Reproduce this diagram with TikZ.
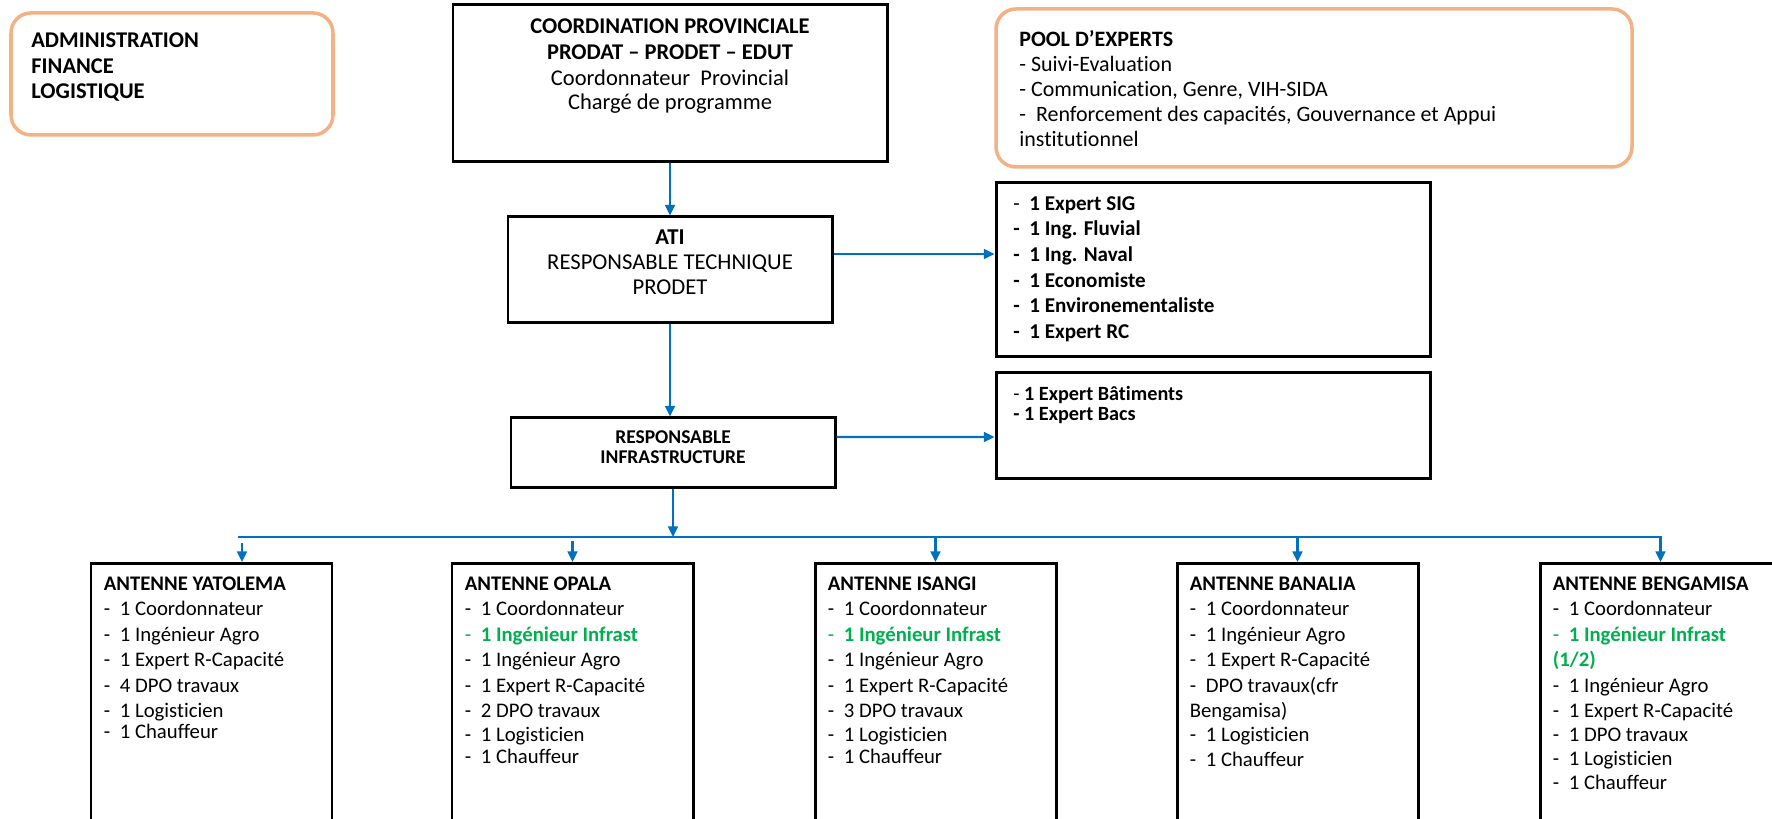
\documentclass[tikz,border=0pt]{standalone}
\usepackage{fontspec}
\setmainfont{Carlito}[Ligatures=NoCommon]
\usepackage{xcolor}
\usetikzlibrary{arrows.meta, positioning, calc}

\definecolor{boxorange}{HTML}{F4B183}
\definecolor{linkblue}{HTML}{0070C0}
\definecolor{infragreen}{HTML}{00B050}

\newcommand{\li}{\makebox[0.32cm][l]{-}}

\begin{document}
\begin{tikzpicture}[
    font=\fontsize{11.8}{14.5}\selectfont,
    unit/.style={rectangle, draw=black, line width=1.7pt},
    softbox/.style={rectangle, rounded corners=0.4cm, draw=boxorange, line width=2pt},
    antenna/.style={unit, minimum width=4.82cm, minimum height=5.5cm, anchor=north},
    txt/.style={anchor=north west, align=left, inner sep=0pt},
    ctxt/.style={anchor=north, align=center, inner sep=0pt},
    link/.style={-{Triangle[length=6pt, width=5.5pt]}, draw=linkblue, line width=1.3pt}
]

\useasboundingbox (0,0) rectangle (35.44,16.38);
\clip (0,0) rectangle (35.44,16.38);

% Top row: administration, coordination, pool
\node[softbox, minimum width=6.44cm, minimum height=2.44cm] (admin) at (3.44,14.90) {};
\node[txt, font=\fontsize{12.8}{14.5}\selectfont\bfseries] (admintxt) at (0.62,15.73) {ADMINISTRATION\\FINANCE\\LOGISTIQUE};

\node[unit, minimum width=8.68cm, minimum height=3.14cm] (coord) at (13.40,14.71) {};
\node[ctxt, font=\fontsize{12.8}{14.9}\selectfont] (coordtxt) at (13.40,16.02) {
    \textbf{COORDINATION PROVINCIALE}\\
    \textbf{PRODAT – PRODET – EDUT}\\
    Coordonnateur\ \ Provincial\\[-1pt]
    Chargé de programme
};

\node[softbox, minimum width=12.72cm, minimum height=3.16cm] (pool) at (26.28,14.62) {};
\node[txt, font=\fontsize{12.5}{14.3}\selectfont] (pooltxt) at (20.38,15.78) {
    \textbf{POOL D’EXPERTS}\\
    - Suivi-Evaluation\\
    - Communication, Genre, VIH-SIDA\\
    -\ \ Renforcement des capacités, Gouvernance et Appui\\
    institutionnel
};

% Middle: ATI and infrastructure
\node[unit, minimum width=6.48cm, minimum height=2.12cm] (ati) at (13.40,10.98) {};
\node[ctxt, font=\fontsize{12.9}{14.2}\selectfont] (atitxt) at (13.40,11.79) {\textbf{ATI}\\RESPONSABLE TECHNIQUE\\PRODET};

\node[unit, minimum width=8.68cm, minimum height=3.48cm] (experts) at (24.26,10.98) {};
\node[txt, font=\fontsize{12.0}{14.6}\selectfont\bfseries] (expertstxt) at (20.26,12.46) {
    {\mdseries\li}1 Expert SIG\\
    \li 1 Ing. Fluvial\\
    \li 1 Ing. Naval\\
    \li 1 Economiste\\
    \li 1 Environementaliste\\
    \li 1 Expert RC
};

\node[unit, minimum width=6.48cm, minimum height=1.40cm] (resp) at (13.46,7.32) {};
\node[ctxt, font=\fontsize{11.1}{11.4}\selectfont\bfseries] (resptxt) at (13.46,7.77) {RESPONSABLE\\INFRASTRUCTURE};

\node[unit, minimum width=8.68cm, minimum height=2.12cm] (batim) at (24.26,7.86) {};
\node[txt, font=\fontsize{11.5}{11.9}\selectfont\bfseries] (batimtxt) at (20.26,8.67) {{\mdseries -} 1 Expert Bâtiments\\- 1 Expert Bacs};

% Bottom row: antennes
\node[antenna] (yat) at (4.23,5.14) {};
\node[antenna] (opa) at (11.45,5.14) {};
\node[antenna] (isa) at (18.71,5.14) {};
\node[antenna] (ban) at (25.95,5.14) {};
\node[antenna] (beng) at (33.21,5.14) {};

\node[txt] (yattxt) at ([shift={(0.28,-0.29)}]yat.north west) {
    \textbf{ANTENNE YATOLEMA}\\
    \li 1 Coordonnateur\\
    \li 1 Ingénieur Agro\\
    \li 1 Expert R-Capacité\\
    \li 4 DPO travaux\\
    \li 1 Logisticien\\[-2.5pt]
    \li 1 Chauffeur
};
\node[txt] (opatxt) at ([shift={(0.28,-0.29)}]opa.north west) {
    \textbf{ANTENNE OPALA}\\
    \li 1 Coordonnateur\\
    \textcolor{infragreen}{\li\textbf{1 Ingénieur Infrast}}\\
    \li 1 Ingénieur Agro\\
    \li 1 Expert R-Capacité\\
    \li 2 DPO travaux\\[-1pt]
    \li 1 Logisticien\\[-2pt]
    \li 1 Chauffeur
};
\node[txt] (isatxt) at ([shift={(0.28,-0.29)}]isa.north west) {
    \textbf{ANTENNE ISANGI}\\
    \li 1 Coordonnateur\\
    \textcolor{infragreen}{\li\textbf{1 Ingénieur Infrast}}\\
    \li 1 Ingénieur Agro\\
    \li 1 Expert R-Capacité\\
    \li 3 DPO travaux\\[-1pt]
    \li 1 Logisticien\\[-2pt]
    \li 1 Chauffeur
};
\node[txt] (bantxt) at ([shift={(0.28,-0.29)}]ban.north west) {
    \textbf{ANTENNE BANALIA}\\
    \li 1 Coordonnateur\\
    \li 1 Ingénieur Agro\\
    \li 1 Expert R-Capacité\\
    \li DPO travaux(cfr\\
    Bengamisa)\\[-1pt]
    \li 1 Logisticien\\
    \li 1 Chauffeur
};
\node[txt] (bengtxt) at ([shift={(0.28,-0.29)}]beng.north west) {
    \textbf{ANTENNE BENGAMISA}\\
    \li 1 Coordonnateur\\
    \textcolor{infragreen}{\li\textbf{1 Ingénieur Infrast}}\\
    \textcolor{infragreen}{\textbf{(1/2)}}\\
    \li 1 Ingénieur Agro\\
    \li 1 Expert R-Capacité\\[-1pt]
    \li 1 DPO travaux\\[-1pt]
    \li 1 Logisticien\\[-1pt]
    \li 1 Chauffeur
};

% Connectors
\coordinate (busL) at (4.76,5.64);
\draw[link] (coord.south) -- (ati.north);
\draw[link] (ati.south) -- (ati.south |- resp.north);
\draw[link] ([yshift=0.32cm]ati.east) -- ([yshift=0.32cm]experts.west);
\draw[link] ([yshift=0.32cm]resp.east) -- ([yshift=-0.22cm]batim.west);
\draw[link] (resp.south) -- (resp.south |- busL);
\draw[link] (busL) -| (beng.north);
\draw[link] ($(yat.north |- busL)+(0.61,-0.12)$) -- ($(yat.north)+(0.61,0)$);
\draw[link] ($(opa.north |- busL)+(0,-0.08)$) -- (opa.north);
\draw[link] (isa.north |- busL) -- (isa.north);
\draw[link] (ban.north |- busL) -- (ban.north);

\end{tikzpicture}
\end{document}
